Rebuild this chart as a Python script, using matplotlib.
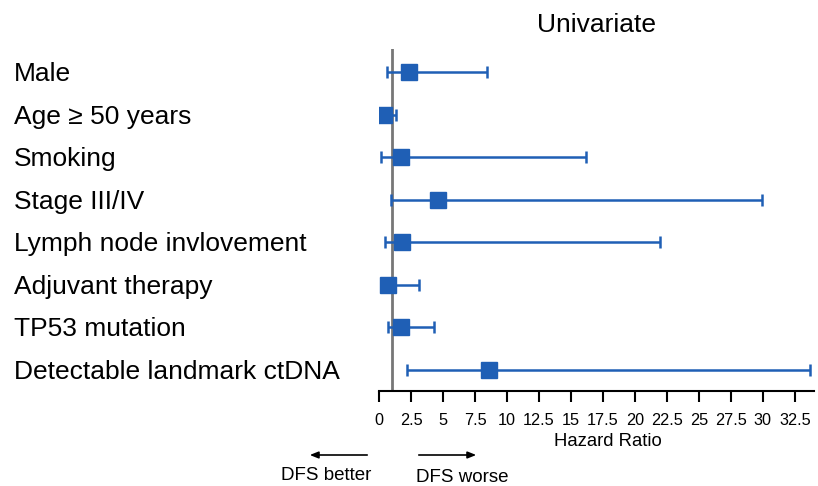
import numpy as np
import matplotlib.pyplot as plt
from matplotlib.transforms import blended_transform_factory

plt.rcParams['font.family'] = ['Liberation Sans', 'DejaVu Sans']

labels = ['Male', 'Age \u2265 50 years', 'Smoking', 'Stage III/IV',
          'Lymph node invlovement', 'Adjuvant therapy', 'TP53 mutation',
          'Detectable landmark ctDNA']
hr = [2.34, 0.37, 1.69, 4.58, 1.80, 0.68, 1.72, 8.6]
lower = [0.65, 0.15, 0.18, 0.94, 0.49, 0.20, 0.70, 2.19]
upper = [8.44, 1.33, 16.2, 29.9, 22.0, 3.13, 4.30, 33.7]
xticks = np.arange(0, 33, 2.5)

blue = '#1f5fb5'

fig = plt.figure(figsize=(8.18, 4.86), dpi=100)
ax = fig.add_axes([379/818, 1 - 390.7/486, 435/818, (390.7 - 49)/486])

y = np.arange(len(labels))
hr = np.array(hr)
err = [hr - np.array(lower), np.array(upper) - hr]
ax.axvline(1, color='#777777', lw=2, zorder=1)
ax.errorbar(hr, y, xerr=err, fmt='s', color=blue, ms=11, elinewidth=1.8,
            capsize=4, capthick=1.8, zorder=3)

ax.set_xlim(0, 34)
ax.set_ylim(7.49, -0.54)
ax.set_xticks(xticks)
ax.set_xticklabels(['%g' % t for t in xticks], fontsize=11.7)
ax.tick_params(axis='x', direction='out', length=8, width=1.5, pad=8)
ax.set_yticks([])
for s in ['left', 'right', 'top']:
    ax.spines[s].set_visible(False)
ax.spines['bottom'].set_linewidth(1.5)

ax.set_xlabel('Hazard Ratio', fontsize=13.3)
ax.xaxis.set_label_coords((608 - 379) / 435, -(441.7 - 390.7) / (390.7 - 49))
ax.xaxis.label.set_va('center')
ax.set_title('Univariate', fontsize=19, pad=12)

trans = blended_transform_factory(fig.transFigure, ax.transData)
for i, lab in enumerate(labels):
    ax.text(14/818, i + 0.05, lab, transform=trans, ha='left', va='center',
            fontsize=19, clip_on=False)

arrow = dict(arrowstyle='-|>,head_length=0.5,head_width=0.2', color='black', lw=1.2)
ax.annotate('', xy=(307/818, 1 - 455/486), xytext=(370/818, 1 - 455/486),
            xycoords='figure fraction', textcoords='figure fraction', arrowprops=arrow)
ax.annotate('', xy=(479/818, 1 - 455/486), xytext=(416/818, 1 - 455/486),
            xycoords='figure fraction', textcoords='figure fraction', arrowprops=arrow)
fig.text(326/818, 1 - 475/486, 'DFS better', ha='center', va='center', fontsize=13.5)
fig.text(462/818, 1 - 477/486, 'DFS worse', ha='center', va='center', fontsize=13.5)

fig.savefig('out.png', dpi=100)
